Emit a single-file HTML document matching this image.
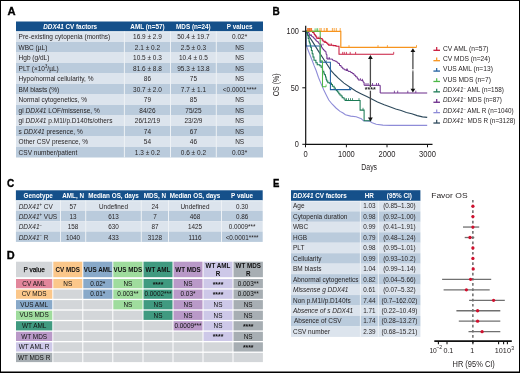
<!DOCTYPE html>
<html><head><meta charset="utf-8"><style>
html,body{margin:0;padding:0;background:#fff;overflow:hidden;width:520px;height:373px;}
svg{display:block;font-family:"Liberation Sans",sans-serif;will-change:transform;}
</style></head><body>
<svg width="520" height="373" viewBox="0 0 520 373">
<rect x="0.00" y="0.00" width="520.00" height="373.00" fill="#fff" />
<text x="7.50" y="15.10" font-size="11.4" text-anchor="start" fill="#000" textLength="8.07" lengthAdjust="spacingAndGlyphs" stroke="#000" stroke-width="0.35"><tspan style="font-weight:bold;">A</tspan></text>
<text x="272.60" y="15.10" font-size="11.4" text-anchor="start" fill="#000" textLength="7.24" lengthAdjust="spacingAndGlyphs" stroke="#000" stroke-width="0.35"><tspan style="font-weight:bold;">B</tspan></text>
<text x="7.10" y="187.20" font-size="11.4" text-anchor="start" fill="#000" textLength="7.24" lengthAdjust="spacingAndGlyphs" stroke="#000" stroke-width="0.35"><tspan style="font-weight:bold;">C</tspan></text>
<text x="6.80" y="258.80" font-size="11.4" text-anchor="start" fill="#000" textLength="7.90" lengthAdjust="spacingAndGlyphs" stroke="#000" stroke-width="0.35"><tspan style="font-weight:bold;">D</tspan></text>
<text x="272.90" y="187.10" font-size="11.4" text-anchor="start" fill="#000" textLength="6.39" lengthAdjust="spacingAndGlyphs" stroke="#000" stroke-width="0.35"><tspan style="font-weight:bold;">E</tspan></text>
<rect x="16.00" y="21.50" width="247.00" height="10.00" fill="#15508a" />
<rect x="16.00" y="31.50" width="247.00" height="10.50" fill="#dce4ed" />
<text x="18.60" y="39.10" font-size="7.2" text-anchor="start" fill="#231f20" textLength="91.62" lengthAdjust="spacingAndGlyphs" ><tspan style="">Pre-existing cytopenia (months)</tspan></text>
<text x="147.45" y="39.10" font-size="7.2" text-anchor="middle" fill="#231f20" textLength="28.78" lengthAdjust="spacingAndGlyphs" ><tspan style="">16.9 ± 2.9</tspan></text>
<text x="193.40" y="39.10" font-size="7.2" text-anchor="middle" fill="#231f20" textLength="32.38" lengthAdjust="spacingAndGlyphs" ><tspan style="">50.4 ± 19.7</tspan></text>
<text x="239.65" y="39.10" font-size="7.2" text-anchor="middle" fill="#231f20" textLength="15.13" lengthAdjust="spacingAndGlyphs" ><tspan style="">0.02*</tspan></text>
<rect x="16.00" y="42.00" width="247.00" height="10.50" fill="#bacbdc" />
<text x="18.60" y="49.60" font-size="7.2" text-anchor="start" fill="#231f20" textLength="28.73" lengthAdjust="spacingAndGlyphs" ><tspan style="">WBC (µL)</tspan></text>
<text x="147.45" y="49.60" font-size="7.2" text-anchor="middle" fill="#231f20" textLength="25.17" lengthAdjust="spacingAndGlyphs" ><tspan style="">2.1 ± 0.2</tspan></text>
<text x="193.40" y="49.60" font-size="7.2" text-anchor="middle" fill="#231f20" textLength="25.17" lengthAdjust="spacingAndGlyphs" ><tspan style="">2.5 ± 0.3</tspan></text>
<text x="239.65" y="49.60" font-size="7.2" text-anchor="middle" fill="#231f20" textLength="9.00" lengthAdjust="spacingAndGlyphs" ><tspan style="">NS</tspan></text>
<rect x="16.00" y="52.50" width="247.00" height="10.50" fill="#dce4ed" />
<text x="18.60" y="60.10" font-size="7.2" text-anchor="start" fill="#231f20" textLength="30.78" lengthAdjust="spacingAndGlyphs" ><tspan style="">Hgb (g/dL)</tspan></text>
<text x="147.45" y="60.10" font-size="7.2" text-anchor="middle" fill="#231f20" textLength="28.78" lengthAdjust="spacingAndGlyphs" ><tspan style="">10.5 ± 0.3</tspan></text>
<text x="193.40" y="60.10" font-size="7.2" text-anchor="middle" fill="#231f20" textLength="28.78" lengthAdjust="spacingAndGlyphs" ><tspan style="">10.4 ± 0.5</tspan></text>
<text x="239.65" y="60.10" font-size="7.2" text-anchor="middle" fill="#231f20" textLength="9.00" lengthAdjust="spacingAndGlyphs" ><tspan style="">NS</tspan></text>
<rect x="16.00" y="63.00" width="247.00" height="10.50" fill="#bacbdc" />
<text x="18.60" y="70.60" font-size="7.2" text-anchor="start" fill="#231f20" textLength="40.09" lengthAdjust="spacingAndGlyphs" ><tspan style="">PLT (×10</tspan><tspan style="font-size:4.68px" dy="-2.52">3</tspan><tspan style="" dy="2.52">/µL)</tspan></text>
<text x="147.45" y="70.60" font-size="7.2" text-anchor="middle" fill="#231f20" textLength="28.78" lengthAdjust="spacingAndGlyphs" ><tspan style="">81.6 ± 8.8</tspan></text>
<text x="193.40" y="70.60" font-size="7.2" text-anchor="middle" fill="#231f20" textLength="32.38" lengthAdjust="spacingAndGlyphs" ><tspan style="">95.3 ± 13.8</tspan></text>
<text x="239.65" y="70.60" font-size="7.2" text-anchor="middle" fill="#231f20" textLength="9.00" lengthAdjust="spacingAndGlyphs" ><tspan style="">NS</tspan></text>
<rect x="16.00" y="73.50" width="247.00" height="10.50" fill="#dce4ed" />
<text x="18.60" y="81.10" font-size="7.2" text-anchor="start" fill="#231f20" textLength="74.84" lengthAdjust="spacingAndGlyphs" ><tspan style="">Hypo/normal cellularity, %</tspan></text>
<text x="147.45" y="81.10" font-size="7.2" text-anchor="middle" fill="#231f20" textLength="7.21" lengthAdjust="spacingAndGlyphs" ><tspan style="">86</tspan></text>
<text x="193.40" y="81.10" font-size="7.2" text-anchor="middle" fill="#231f20" textLength="7.21" lengthAdjust="spacingAndGlyphs" ><tspan style="">75</tspan></text>
<text x="239.65" y="81.10" font-size="7.2" text-anchor="middle" fill="#231f20" textLength="9.00" lengthAdjust="spacingAndGlyphs" ><tspan style="">NS</tspan></text>
<rect x="16.00" y="84.00" width="247.00" height="10.50" fill="#bacbdc" />
<text x="18.60" y="91.60" font-size="7.2" text-anchor="start" fill="#231f20" textLength="40.55" lengthAdjust="spacingAndGlyphs" ><tspan style="">BM blasts (%)</tspan></text>
<text x="147.45" y="91.60" font-size="7.2" text-anchor="middle" fill="#231f20" textLength="28.78" lengthAdjust="spacingAndGlyphs" ><tspan style="">30.7 ± 2.0</tspan></text>
<text x="193.40" y="91.60" font-size="7.2" text-anchor="middle" fill="#231f20" textLength="25.17" lengthAdjust="spacingAndGlyphs" ><tspan style="">7.7 ± 1.1</tspan></text>
<text x="239.65" y="91.60" font-size="7.2" text-anchor="middle" fill="#231f20" textLength="33.69" lengthAdjust="spacingAndGlyphs" ><tspan style="">&lt;0.0001****</tspan></text>
<rect x="16.00" y="94.50" width="247.00" height="10.50" fill="#dce4ed" />
<text x="18.60" y="102.10" font-size="7.2" text-anchor="start" fill="#231f20" textLength="68.44" lengthAdjust="spacingAndGlyphs" ><tspan style="">Normal cytogenetics, %</tspan></text>
<text x="147.45" y="102.10" font-size="7.2" text-anchor="middle" fill="#231f20" textLength="7.21" lengthAdjust="spacingAndGlyphs" ><tspan style="">79</tspan></text>
<text x="193.40" y="102.10" font-size="7.2" text-anchor="middle" fill="#231f20" textLength="7.21" lengthAdjust="spacingAndGlyphs" ><tspan style="">85</tspan></text>
<text x="239.65" y="102.10" font-size="7.2" text-anchor="middle" fill="#231f20" textLength="9.00" lengthAdjust="spacingAndGlyphs" ><tspan style="">NS</tspan></text>
<rect x="16.00" y="105.00" width="247.00" height="10.50" fill="#bacbdc" />
<text x="18.60" y="112.60" font-size="7.2" text-anchor="start" fill="#231f20" textLength="81.11" lengthAdjust="spacingAndGlyphs" ><tspan style="">gl </tspan><tspan style="font-style:italic;">DDX41</tspan><tspan style=""> LOF/missense, %</tspan></text>
<text x="147.45" y="112.60" font-size="7.2" text-anchor="middle" fill="#231f20" textLength="16.21" lengthAdjust="spacingAndGlyphs" ><tspan style="">84/26</tspan></text>
<text x="193.40" y="112.60" font-size="7.2" text-anchor="middle" fill="#231f20" textLength="16.21" lengthAdjust="spacingAndGlyphs" ><tspan style="">75/25</tspan></text>
<text x="239.65" y="112.60" font-size="7.2" text-anchor="middle" fill="#231f20" textLength="9.00" lengthAdjust="spacingAndGlyphs" ><tspan style="">NS</tspan></text>
<rect x="16.00" y="115.50" width="247.00" height="10.50" fill="#dce4ed" />
<text x="18.60" y="123.10" font-size="7.2" text-anchor="start" fill="#231f20" textLength="93.80" lengthAdjust="spacingAndGlyphs" ><tspan style="">gl </tspan><tspan style="font-style:italic;">DDX41</tspan><tspan style=""> p.M1I/p.D140fs/others</tspan></text>
<text x="147.45" y="123.10" font-size="7.2" text-anchor="middle" fill="#231f20" textLength="25.22" lengthAdjust="spacingAndGlyphs" ><tspan style="">26/12/19</tspan></text>
<text x="193.40" y="123.10" font-size="7.2" text-anchor="middle" fill="#231f20" textLength="18.01" lengthAdjust="spacingAndGlyphs" ><tspan style="">23/2/9</tspan></text>
<text x="239.65" y="123.10" font-size="7.2" text-anchor="middle" fill="#231f20" textLength="9.00" lengthAdjust="spacingAndGlyphs" ><tspan style="">NS</tspan></text>
<rect x="16.00" y="126.00" width="247.00" height="10.50" fill="#bacbdc" />
<text x="18.60" y="133.60" font-size="7.2" text-anchor="start" fill="#231f20" textLength="64.10" lengthAdjust="spacingAndGlyphs" ><tspan style="">s </tspan><tspan style="font-style:italic;">DDX41</tspan><tspan style=""> presence, %</tspan></text>
<text x="147.45" y="133.60" font-size="7.2" text-anchor="middle" fill="#231f20" textLength="7.21" lengthAdjust="spacingAndGlyphs" ><tspan style="">74</tspan></text>
<text x="193.40" y="133.60" font-size="7.2" text-anchor="middle" fill="#231f20" textLength="7.21" lengthAdjust="spacingAndGlyphs" ><tspan style="">67</tspan></text>
<text x="239.65" y="133.60" font-size="7.2" text-anchor="middle" fill="#231f20" textLength="9.00" lengthAdjust="spacingAndGlyphs" ><tspan style="">NS</tspan></text>
<rect x="16.00" y="136.50" width="247.00" height="10.50" fill="#dce4ed" />
<text x="18.60" y="144.10" font-size="7.2" text-anchor="start" fill="#231f20" textLength="69.53" lengthAdjust="spacingAndGlyphs" ><tspan style="">Other CSV presence, %</tspan></text>
<text x="147.45" y="144.10" font-size="7.2" text-anchor="middle" fill="#231f20" textLength="7.21" lengthAdjust="spacingAndGlyphs" ><tspan style="">54</tspan></text>
<text x="193.40" y="144.10" font-size="7.2" text-anchor="middle" fill="#231f20" textLength="7.21" lengthAdjust="spacingAndGlyphs" ><tspan style="">46</tspan></text>
<text x="239.65" y="144.10" font-size="7.2" text-anchor="middle" fill="#231f20" textLength="9.00" lengthAdjust="spacingAndGlyphs" ><tspan style="">NS</tspan></text>
<rect x="16.00" y="147.00" width="247.00" height="10.50" fill="#bacbdc" />
<text x="18.60" y="154.60" font-size="7.2" text-anchor="start" fill="#231f20" textLength="58.67" lengthAdjust="spacingAndGlyphs" ><tspan style="">CSV number/patient</tspan></text>
<text x="147.45" y="154.60" font-size="7.2" text-anchor="middle" fill="#231f20" textLength="25.17" lengthAdjust="spacingAndGlyphs" ><tspan style="">1.3 ± 0.2</tspan></text>
<text x="193.40" y="154.60" font-size="7.2" text-anchor="middle" fill="#231f20" textLength="25.17" lengthAdjust="spacingAndGlyphs" ><tspan style="">0.6 ± 0.2</tspan></text>
<text x="239.65" y="154.60" font-size="7.2" text-anchor="middle" fill="#231f20" textLength="15.13" lengthAdjust="spacingAndGlyphs" ><tspan style="">0.03*</tspan></text>
<rect x="123.90" y="31.50" width="1.00" height="126.00" fill="#eef2f6" />
<rect x="170.00" y="31.50" width="1.00" height="126.00" fill="#eef2f6" />
<rect x="215.80" y="31.50" width="1.00" height="126.00" fill="#eef2f6" />
<text x="70.20" y="29.30" font-size="7.2" text-anchor="middle" fill="#fff" textLength="53.87" lengthAdjust="spacingAndGlyphs" ><tspan style="font-weight:bold;font-style:italic;">DDX41</tspan><tspan style="font-weight:bold;"> CV factors</tspan></text>
<text x="147.45" y="29.30" font-size="7.2" text-anchor="middle" fill="#fff" textLength="34.21" lengthAdjust="spacingAndGlyphs" ><tspan style="font-weight:bold;">AML (n=57)</tspan></text>
<text x="193.40" y="29.30" font-size="7.2" text-anchor="middle" fill="#fff" textLength="34.68" lengthAdjust="spacingAndGlyphs" ><tspan style="font-weight:bold;">MDS (n=24)</tspan></text>
<text x="239.65" y="29.30" font-size="7.2" text-anchor="middle" fill="#fff" textLength="25.60" lengthAdjust="spacingAndGlyphs" ><tspan style="font-weight:bold;">P values</tspan></text>
<rect x="16.00" y="31.50" width="247.00" height="0.80" fill="#eef3f8" />
<rect x="15.90" y="190.30" width="246.80" height="10.20" fill="#15508a" />
<text x="38.20" y="197.90" font-size="7.2" text-anchor="middle" fill="#fff" textLength="29.22" lengthAdjust="spacingAndGlyphs" ><tspan style="font-weight:bold;">Genotype</tspan></text>
<text x="73.10" y="197.90" font-size="7.2" text-anchor="middle" fill="#fff" textLength="21.82" lengthAdjust="spacingAndGlyphs" ><tspan style="font-weight:bold;">AML, N</tspan></text>
<text x="113.50" y="197.90" font-size="7.2" text-anchor="middle" fill="#fff" textLength="50.70" lengthAdjust="spacingAndGlyphs" ><tspan style="font-weight:bold;">Median OS, days</tspan></text>
<text x="154.90" y="197.90" font-size="7.2" text-anchor="middle" fill="#fff" textLength="22.18" lengthAdjust="spacingAndGlyphs" ><tspan style="font-weight:bold;">MDS, N</tspan></text>
<text x="195.00" y="197.90" font-size="7.2" text-anchor="middle" fill="#fff" textLength="50.70" lengthAdjust="spacingAndGlyphs" ><tspan style="font-weight:bold;">Median OS, days</tspan></text>
<text x="242.10" y="197.90" font-size="7.2" text-anchor="middle" fill="#fff" textLength="22.07" lengthAdjust="spacingAndGlyphs" ><tspan style="font-weight:bold;">P value</tspan></text>
<rect x="15.90" y="200.50" width="246.80" height="10.35" fill="#dce4ed" />
<text x="18.70" y="208.50" font-size="7.2" text-anchor="start" fill="#231f20" textLength="34.15" lengthAdjust="spacingAndGlyphs" ><tspan style="font-style:italic;">DDX41</tspan><tspan style="font-size:4.68px" dy="-2.52">+</tspan><tspan style="" dy="2.52"> CV</tspan></text>
<text x="73.10" y="208.50" font-size="7.2" text-anchor="middle" fill="#231f20" textLength="7.05" lengthAdjust="spacingAndGlyphs" ><tspan style="">57</tspan></text>
<text x="113.50" y="208.50" font-size="7.2" text-anchor="middle" fill="#231f20" textLength="28.88" lengthAdjust="spacingAndGlyphs" ><tspan style="">Undefined</tspan></text>
<text x="154.90" y="208.50" font-size="7.2" text-anchor="middle" fill="#231f20" textLength="7.05" lengthAdjust="spacingAndGlyphs" ><tspan style="">24</tspan></text>
<text x="195.00" y="208.50" font-size="7.2" text-anchor="middle" fill="#231f20" textLength="28.88" lengthAdjust="spacingAndGlyphs" ><tspan style="">Undefined</tspan></text>
<text x="242.10" y="208.50" font-size="7.2" text-anchor="middle" fill="#231f20" textLength="12.33" lengthAdjust="spacingAndGlyphs" ><tspan style="">0.30</tspan></text>
<rect x="15.90" y="210.85" width="246.80" height="10.35" fill="#bacbdc" />
<text x="18.70" y="218.85" font-size="7.2" text-anchor="start" fill="#231f20" textLength="38.47" lengthAdjust="spacingAndGlyphs" ><tspan style="font-style:italic;">DDX41</tspan><tspan style="font-size:4.68px" dy="-2.52">+</tspan><tspan style="" dy="2.52"> VUS</tspan></text>
<text x="73.10" y="218.85" font-size="7.2" text-anchor="middle" fill="#231f20" textLength="7.05" lengthAdjust="spacingAndGlyphs" ><tspan style="">13</tspan></text>
<text x="113.50" y="218.85" font-size="7.2" text-anchor="middle" fill="#231f20" textLength="10.57" lengthAdjust="spacingAndGlyphs" ><tspan style="">613</tspan></text>
<text x="154.90" y="218.85" font-size="7.2" text-anchor="middle" fill="#231f20" textLength="3.52" lengthAdjust="spacingAndGlyphs" ><tspan style="">7</tspan></text>
<text x="195.00" y="218.85" font-size="7.2" text-anchor="middle" fill="#231f20" textLength="10.57" lengthAdjust="spacingAndGlyphs" ><tspan style="">468</tspan></text>
<text x="242.10" y="218.85" font-size="7.2" text-anchor="middle" fill="#231f20" textLength="12.33" lengthAdjust="spacingAndGlyphs" ><tspan style="">0.86</tspan></text>
<rect x="15.90" y="221.20" width="246.80" height="10.35" fill="#dce4ed" />
<text x="18.70" y="229.20" font-size="7.2" text-anchor="start" fill="#231f20" textLength="23.35" lengthAdjust="spacingAndGlyphs" ><tspan style="font-style:italic;">DDX41</tspan><tspan style="font-size:4.68px" dy="-2.52">−</tspan></text>
<text x="73.10" y="229.20" font-size="7.2" text-anchor="middle" fill="#231f20" textLength="10.57" lengthAdjust="spacingAndGlyphs" ><tspan style="">158</tspan></text>
<text x="113.50" y="229.20" font-size="7.2" text-anchor="middle" fill="#231f20" textLength="10.57" lengthAdjust="spacingAndGlyphs" ><tspan style="">630</tspan></text>
<text x="154.90" y="229.20" font-size="7.2" text-anchor="middle" fill="#231f20" textLength="7.05" lengthAdjust="spacingAndGlyphs" ><tspan style="">87</tspan></text>
<text x="195.00" y="229.20" font-size="7.2" text-anchor="middle" fill="#231f20" textLength="14.09" lengthAdjust="spacingAndGlyphs" ><tspan style="">1425</tspan></text>
<text x="242.10" y="229.20" font-size="7.2" text-anchor="middle" fill="#231f20" textLength="26.78" lengthAdjust="spacingAndGlyphs" ><tspan style="">0.0009***</tspan></text>
<rect x="15.90" y="231.55" width="246.80" height="10.35" fill="#bacbdc" />
<text x="18.70" y="239.55" font-size="7.2" text-anchor="start" fill="#231f20" textLength="29.83" lengthAdjust="spacingAndGlyphs" ><tspan style="font-style:italic;">DDX41</tspan><tspan style="font-size:4.68px" dy="-2.52">−</tspan><tspan style="" dy="2.52"> R</tspan></text>
<text x="73.10" y="239.55" font-size="7.2" text-anchor="middle" fill="#231f20" textLength="14.09" lengthAdjust="spacingAndGlyphs" ><tspan style="">1040</tspan></text>
<text x="113.50" y="239.55" font-size="7.2" text-anchor="middle" fill="#231f20" textLength="10.57" lengthAdjust="spacingAndGlyphs" ><tspan style="">433</tspan></text>
<text x="154.90" y="239.55" font-size="7.2" text-anchor="middle" fill="#231f20" textLength="14.09" lengthAdjust="spacingAndGlyphs" ><tspan style="">3128</tspan></text>
<text x="195.00" y="239.55" font-size="7.2" text-anchor="middle" fill="#231f20" textLength="13.15" lengthAdjust="spacingAndGlyphs" ><tspan style="">1116</tspan></text>
<text x="242.10" y="239.55" font-size="7.2" text-anchor="middle" fill="#231f20" textLength="32.94" lengthAdjust="spacingAndGlyphs" ><tspan style="">&lt;0.0001****</tspan></text>
<rect x="60.00" y="200.50" width="1.00" height="41.40" fill="#eef2f6" />
<rect x="85.20" y="200.50" width="1.00" height="41.40" fill="#eef2f6" />
<rect x="140.80" y="200.50" width="1.00" height="41.40" fill="#eef2f6" />
<rect x="168.00" y="200.50" width="1.00" height="41.40" fill="#eef2f6" />
<rect x="221.00" y="200.50" width="1.00" height="41.40" fill="#eef2f6" />
<rect x="15.90" y="200.50" width="246.80" height="0.80" fill="#eef3f8" />
<rect x="16.00" y="261.70" width="36.30" height="15.50" fill="#d3d6d9" />
<text x="34.15" y="272.30" font-size="6.8" text-anchor="middle" fill="#111" textLength="21.43" lengthAdjust="spacingAndGlyphs" stroke="#111" stroke-width="0.25"><tspan style="">P value</tspan></text>
<rect x="53.30" y="261.70" width="29.00" height="15.50" fill="#fbc78a" />
<text x="67.80" y="272.30" font-size="6.6" text-anchor="middle" fill="#111" textLength="24.39" lengthAdjust="spacingAndGlyphs" ><tspan style="font-weight:bold;">CV MDS</tspan></text>
<rect x="83.30" y="261.70" width="29.00" height="15.50" fill="#88a9c9" />
<text x="97.80" y="272.30" font-size="6.6" text-anchor="middle" fill="#111" textLength="27.98" lengthAdjust="spacingAndGlyphs" ><tspan style="font-weight:bold;">VUS AML</tspan></text>
<rect x="113.30" y="261.70" width="29.20" height="15.50" fill="#9fdc9d" />
<text x="127.90" y="272.30" font-size="6.6" text-anchor="middle" fill="#111" textLength="28.57" lengthAdjust="spacingAndGlyphs" ><tspan style="font-weight:bold;">VUS MDS</tspan></text>
<rect x="143.50" y="261.70" width="29.00" height="15.50" fill="#409a80" />
<text x="158.00" y="272.30" font-size="6.6" text-anchor="middle" fill="#111" textLength="24.84" lengthAdjust="spacingAndGlyphs" ><tspan style="font-weight:bold;">WT AML</tspan></text>
<rect x="173.50" y="261.70" width="29.00" height="15.50" fill="#b999c8" />
<text x="188.00" y="272.30" font-size="6.6" text-anchor="middle" fill="#111" textLength="25.42" lengthAdjust="spacingAndGlyphs" ><tspan style="font-weight:bold;">WT MDS</tspan></text>
<rect x="203.50" y="261.70" width="29.00" height="15.50" fill="#cdc8e8" />
<text x="218.00" y="268.30" font-size="6.6" text-anchor="middle" fill="#111" textLength="24.84" lengthAdjust="spacingAndGlyphs" ><tspan style="font-weight:bold;">WT AML</tspan></text>
<text x="218.00" y="275.90" font-size="6.6" text-anchor="middle" fill="#111" textLength="4.53" lengthAdjust="spacingAndGlyphs" ><tspan style="font-weight:bold;">R</tspan></text>
<rect x="233.50" y="261.70" width="29.40" height="15.50" fill="#a7aeb3" />
<text x="248.20" y="268.30" font-size="6.6" text-anchor="middle" fill="#111" textLength="25.42" lengthAdjust="spacingAndGlyphs" ><tspan style="font-weight:bold;">WT MDS</tspan></text>
<text x="248.20" y="275.90" font-size="6.6" text-anchor="middle" fill="#111" textLength="4.53" lengthAdjust="spacingAndGlyphs" ><tspan style="font-weight:bold;">R</tspan></text>
<rect x="16.00" y="279.00" width="36.30" height="9.25" fill="#e2869b" />
<text x="34.15" y="285.80" font-size="6.7" text-anchor="middle" fill="#111" textLength="23.59" lengthAdjust="spacingAndGlyphs" ><tspan style="">CV AML</tspan></text>
<rect x="53.30" y="279.00" width="29.00" height="9.25" fill="#fbc78a" />
<text x="67.80" y="285.90" font-size="6.7" text-anchor="middle" fill="#111" textLength="8.94" lengthAdjust="spacingAndGlyphs" ><tspan style="">NS</tspan></text>
<rect x="83.30" y="279.00" width="29.00" height="9.25" fill="#88a9c9" />
<text x="97.80" y="285.90" font-size="6.7" text-anchor="middle" fill="#111" textLength="15.02" lengthAdjust="spacingAndGlyphs" ><tspan style="">0.02*</tspan></text>
<rect x="113.30" y="279.00" width="29.20" height="9.25" fill="#9fdc9d" />
<text x="127.90" y="285.90" font-size="6.7" text-anchor="middle" fill="#111" textLength="8.94" lengthAdjust="spacingAndGlyphs" ><tspan style="">NS</tspan></text>
<rect x="143.50" y="279.00" width="29.00" height="9.25" fill="#409a80" />
<text x="158.00" y="286.60" font-size="6.8" text-anchor="middle" fill="#111" textLength="10.59" lengthAdjust="spacingAndGlyphs" ><tspan style="font-weight:bold;">****</tspan></text>
<rect x="173.50" y="279.00" width="29.00" height="9.25" fill="#b999c8" />
<text x="188.00" y="285.90" font-size="6.7" text-anchor="middle" fill="#111" textLength="8.94" lengthAdjust="spacingAndGlyphs" ><tspan style="">NS</tspan></text>
<rect x="203.50" y="279.00" width="29.00" height="9.25" fill="#cdc8e8" />
<text x="218.00" y="286.60" font-size="6.8" text-anchor="middle" fill="#111" textLength="10.59" lengthAdjust="spacingAndGlyphs" ><tspan style="font-weight:bold;">****</tspan></text>
<rect x="233.50" y="279.00" width="29.40" height="9.25" fill="#a7aeb3" />
<text x="248.20" y="285.90" font-size="6.7" text-anchor="middle" fill="#111" textLength="21.10" lengthAdjust="spacingAndGlyphs" ><tspan style="">0.003**</tspan></text>
<rect x="16.00" y="289.55" width="36.30" height="9.25" fill="#fbc78a" />
<text x="34.15" y="296.35" font-size="6.7" text-anchor="middle" fill="#111" textLength="25.02" lengthAdjust="spacingAndGlyphs" ><tspan style="">CV MDS</tspan></text>
<rect x="53.30" y="289.55" width="29.00" height="9.25" fill="#d3d6d9" />
<rect x="83.30" y="289.55" width="29.00" height="9.25" fill="#88a9c9" />
<text x="97.80" y="296.45" font-size="6.7" text-anchor="middle" fill="#111" textLength="15.02" lengthAdjust="spacingAndGlyphs" ><tspan style="">0.01*</tspan></text>
<rect x="113.30" y="289.55" width="29.20" height="9.25" fill="#9fdc9d" />
<text x="127.90" y="296.45" font-size="6.7" text-anchor="middle" fill="#111" textLength="21.10" lengthAdjust="spacingAndGlyphs" ><tspan style="">0.003**</tspan></text>
<rect x="143.50" y="289.55" width="29.00" height="9.25" fill="#409a80" />
<text x="158.00" y="296.45" font-size="6.7" text-anchor="middle" fill="#111" textLength="27.18" lengthAdjust="spacingAndGlyphs" ><tspan style="">0.0002***</tspan></text>
<rect x="173.50" y="289.55" width="29.00" height="9.25" fill="#b999c8" />
<text x="188.00" y="296.45" font-size="6.7" text-anchor="middle" fill="#111" textLength="15.02" lengthAdjust="spacingAndGlyphs" ><tspan style="">0.03*</tspan></text>
<rect x="203.50" y="289.55" width="29.00" height="9.25" fill="#cdc8e8" />
<text x="218.00" y="297.15" font-size="6.8" text-anchor="middle" fill="#111" textLength="10.59" lengthAdjust="spacingAndGlyphs" ><tspan style="font-weight:bold;">****</tspan></text>
<rect x="233.50" y="289.55" width="29.40" height="9.25" fill="#a7aeb3" />
<text x="248.20" y="296.45" font-size="6.7" text-anchor="middle" fill="#111" textLength="21.10" lengthAdjust="spacingAndGlyphs" ><tspan style="">0.003**</tspan></text>
<rect x="16.00" y="300.10" width="36.30" height="9.25" fill="#88a9c9" />
<text x="34.15" y="306.90" font-size="6.7" text-anchor="middle" fill="#111" textLength="27.88" lengthAdjust="spacingAndGlyphs" ><tspan style="">VUS AML</tspan></text>
<rect x="53.30" y="300.10" width="29.00" height="9.25" fill="#d3d6d9" />
<rect x="83.30" y="300.10" width="29.00" height="9.25" fill="#d3d6d9" />
<rect x="113.30" y="300.10" width="29.20" height="9.25" fill="#9fdc9d" />
<text x="127.90" y="307.00" font-size="6.7" text-anchor="middle" fill="#111" textLength="8.94" lengthAdjust="spacingAndGlyphs" ><tspan style="">NS</tspan></text>
<rect x="143.50" y="300.10" width="29.00" height="9.25" fill="#409a80" />
<text x="158.00" y="307.00" font-size="6.7" text-anchor="middle" fill="#111" textLength="8.94" lengthAdjust="spacingAndGlyphs" ><tspan style="">NS</tspan></text>
<rect x="173.50" y="300.10" width="29.00" height="9.25" fill="#b999c8" />
<text x="188.00" y="307.00" font-size="6.7" text-anchor="middle" fill="#111" textLength="8.94" lengthAdjust="spacingAndGlyphs" ><tspan style="">NS</tspan></text>
<rect x="203.50" y="300.10" width="29.00" height="9.25" fill="#cdc8e8" />
<text x="218.00" y="307.00" font-size="6.7" text-anchor="middle" fill="#111" textLength="8.94" lengthAdjust="spacingAndGlyphs" ><tspan style="">NS</tspan></text>
<rect x="233.50" y="300.10" width="29.40" height="9.25" fill="#a7aeb3" />
<text x="248.20" y="307.00" font-size="6.7" text-anchor="middle" fill="#111" textLength="8.94" lengthAdjust="spacingAndGlyphs" ><tspan style="">NS</tspan></text>
<rect x="16.00" y="310.65" width="36.30" height="9.25" fill="#9fdc9d" />
<text x="34.15" y="317.45" font-size="6.7" text-anchor="middle" fill="#111" textLength="29.31" lengthAdjust="spacingAndGlyphs" ><tspan style="">VUS MDS</tspan></text>
<rect x="53.30" y="310.65" width="29.00" height="9.25" fill="#d3d6d9" />
<rect x="83.30" y="310.65" width="29.00" height="9.25" fill="#d3d6d9" />
<rect x="113.30" y="310.65" width="29.20" height="9.25" fill="#d3d6d9" />
<rect x="143.50" y="310.65" width="29.00" height="9.25" fill="#409a80" />
<text x="158.00" y="317.55" font-size="6.7" text-anchor="middle" fill="#111" textLength="8.94" lengthAdjust="spacingAndGlyphs" ><tspan style="">NS</tspan></text>
<rect x="173.50" y="310.65" width="29.00" height="9.25" fill="#b999c8" />
<text x="188.00" y="317.55" font-size="6.7" text-anchor="middle" fill="#111" textLength="8.94" lengthAdjust="spacingAndGlyphs" ><tspan style="">NS</tspan></text>
<rect x="203.50" y="310.65" width="29.00" height="9.25" fill="#cdc8e8" />
<text x="218.00" y="317.55" font-size="6.7" text-anchor="middle" fill="#111" textLength="8.94" lengthAdjust="spacingAndGlyphs" ><tspan style="">NS</tspan></text>
<rect x="233.50" y="310.65" width="29.40" height="9.25" fill="#a7aeb3" />
<text x="248.20" y="317.55" font-size="6.7" text-anchor="middle" fill="#111" textLength="8.94" lengthAdjust="spacingAndGlyphs" ><tspan style="">NS</tspan></text>
<rect x="16.00" y="321.20" width="36.30" height="9.25" fill="#409a80" />
<text x="34.15" y="328.00" font-size="6.7" text-anchor="middle" fill="#111" textLength="24.54" lengthAdjust="spacingAndGlyphs" ><tspan style="">WT AML</tspan></text>
<rect x="53.30" y="321.20" width="29.00" height="9.25" fill="#d3d6d9" />
<rect x="83.30" y="321.20" width="29.00" height="9.25" fill="#d3d6d9" />
<rect x="113.30" y="321.20" width="29.20" height="9.25" fill="#d3d6d9" />
<rect x="143.50" y="321.20" width="29.00" height="9.25" fill="#d3d6d9" />
<rect x="173.50" y="321.20" width="29.00" height="9.25" fill="#b999c8" />
<text x="188.00" y="328.10" font-size="6.7" text-anchor="middle" fill="#111" textLength="27.18" lengthAdjust="spacingAndGlyphs" ><tspan style="">0.0009***</tspan></text>
<rect x="203.50" y="321.20" width="29.00" height="9.25" fill="#cdc8e8" />
<text x="218.00" y="328.10" font-size="6.7" text-anchor="middle" fill="#111" textLength="8.94" lengthAdjust="spacingAndGlyphs" ><tspan style="">NS</tspan></text>
<rect x="233.50" y="321.20" width="29.40" height="9.25" fill="#a7aeb3" />
<text x="248.20" y="328.80" font-size="6.8" text-anchor="middle" fill="#111" textLength="10.59" lengthAdjust="spacingAndGlyphs" ><tspan style="font-weight:bold;">****</tspan></text>
<rect x="16.00" y="331.75" width="36.30" height="9.25" fill="#b999c8" />
<text x="34.15" y="338.55" font-size="6.7" text-anchor="middle" fill="#111" textLength="25.96" lengthAdjust="spacingAndGlyphs" ><tspan style="">WT MDS</tspan></text>
<rect x="53.30" y="331.75" width="29.00" height="9.25" fill="#d3d6d9" />
<rect x="83.30" y="331.75" width="29.00" height="9.25" fill="#d3d6d9" />
<rect x="113.30" y="331.75" width="29.20" height="9.25" fill="#d3d6d9" />
<rect x="143.50" y="331.75" width="29.00" height="9.25" fill="#d3d6d9" />
<rect x="173.50" y="331.75" width="29.00" height="9.25" fill="#d3d6d9" />
<rect x="203.50" y="331.75" width="29.00" height="9.25" fill="#cdc8e8" />
<text x="218.00" y="339.35" font-size="6.8" text-anchor="middle" fill="#111" textLength="10.59" lengthAdjust="spacingAndGlyphs" ><tspan style="font-weight:bold;">****</tspan></text>
<rect x="233.50" y="331.75" width="29.40" height="9.25" fill="#a7aeb3" />
<text x="248.20" y="338.65" font-size="6.7" text-anchor="middle" fill="#111" textLength="8.94" lengthAdjust="spacingAndGlyphs" ><tspan style="">NS</tspan></text>
<rect x="16.00" y="342.30" width="36.30" height="9.25" fill="#cdc8e8" />
<text x="34.15" y="349.10" font-size="6.7" text-anchor="middle" fill="#111" textLength="30.73" lengthAdjust="spacingAndGlyphs" ><tspan style="">WT AML R</tspan></text>
<rect x="53.30" y="342.30" width="29.00" height="9.25" fill="#d3d6d9" />
<rect x="83.30" y="342.30" width="29.00" height="9.25" fill="#d3d6d9" />
<rect x="113.30" y="342.30" width="29.20" height="9.25" fill="#d3d6d9" />
<rect x="143.50" y="342.30" width="29.00" height="9.25" fill="#d3d6d9" />
<rect x="173.50" y="342.30" width="29.00" height="9.25" fill="#d3d6d9" />
<rect x="203.50" y="342.30" width="29.00" height="9.25" fill="#d3d6d9" />
<rect x="233.50" y="342.30" width="29.40" height="9.25" fill="#a7aeb3" />
<text x="248.20" y="349.90" font-size="6.8" text-anchor="middle" fill="#111" textLength="10.59" lengthAdjust="spacingAndGlyphs" ><tspan style="font-weight:bold;">****</tspan></text>
<rect x="16.00" y="352.85" width="36.30" height="9.25" fill="#a7aeb3" />
<text x="34.15" y="359.65" font-size="6.7" text-anchor="middle" fill="#111" textLength="32.40" lengthAdjust="spacingAndGlyphs" ><tspan style="">WT MDS R</tspan></text>
<rect x="53.30" y="352.85" width="29.00" height="9.25" fill="#d3d6d9" />
<rect x="83.30" y="352.85" width="29.00" height="9.25" fill="#d3d6d9" />
<rect x="113.30" y="352.85" width="29.20" height="9.25" fill="#d3d6d9" />
<rect x="143.50" y="352.85" width="29.00" height="9.25" fill="#d3d6d9" />
<rect x="173.50" y="352.85" width="29.00" height="9.25" fill="#d3d6d9" />
<rect x="203.50" y="352.85" width="29.00" height="9.25" fill="#d3d6d9" />
<rect x="233.50" y="352.85" width="29.40" height="9.25" fill="#d3d6d9" />
<rect x="291.00" y="190.20" width="129.40" height="10.70" fill="#15508a" />
<text x="293.00" y="197.70" font-size="7.2" text-anchor="start" fill="#fff" textLength="53.87" lengthAdjust="spacingAndGlyphs" ><tspan style="font-weight:bold;font-style:italic;">DDX41</tspan><tspan style="font-weight:bold;"> CV factors</tspan></text>
<text x="369.35" y="197.70" font-size="7.2" text-anchor="middle" fill="#fff" textLength="9.15" lengthAdjust="spacingAndGlyphs" ><tspan style="font-weight:bold;">HR</tspan></text>
<text x="399.35" y="197.70" font-size="7.2" text-anchor="middle" fill="#fff" textLength="25.00" lengthAdjust="spacingAndGlyphs" ><tspan style="font-weight:bold;">(95% CI)</tspan></text>
<rect x="291.00" y="200.90" width="129.40" height="10.46" fill="#dce4ed" />
<text x="293.00" y="208.40" font-size="7.2" text-anchor="start" fill="#231f20" textLength="11.53" lengthAdjust="spacingAndGlyphs" ><tspan style="">Age</tspan></text>
<text x="369.35" y="208.40" font-size="7.2" text-anchor="middle" fill="#231f20" textLength="12.33" lengthAdjust="spacingAndGlyphs" ><tspan style="">1.03</tspan></text>
<text x="399.35" y="208.40" font-size="7.2" text-anchor="middle" fill="#231f20" textLength="32.40" lengthAdjust="spacingAndGlyphs" ><tspan style="">(0.85–1.30)</tspan></text>
<rect x="291.00" y="211.36" width="129.40" height="10.46" fill="#bacbdc" />
<text x="293.00" y="218.86" font-size="7.2" text-anchor="start" fill="#231f20" textLength="54.39" lengthAdjust="spacingAndGlyphs" ><tspan style="">Cytopenia duration</tspan></text>
<text x="369.35" y="218.86" font-size="7.2" text-anchor="middle" fill="#231f20" textLength="12.33" lengthAdjust="spacingAndGlyphs" ><tspan style="">0.98</tspan></text>
<text x="399.35" y="218.86" font-size="7.2" text-anchor="middle" fill="#231f20" textLength="32.40" lengthAdjust="spacingAndGlyphs" ><tspan style="">(0.92–1.00)</tspan></text>
<rect x="291.00" y="221.82" width="129.40" height="10.46" fill="#dce4ed" />
<text x="293.00" y="229.32" font-size="7.2" text-anchor="start" fill="#231f20" textLength="15.12" lengthAdjust="spacingAndGlyphs" ><tspan style="">WBC</tspan></text>
<text x="369.35" y="229.32" font-size="7.2" text-anchor="middle" fill="#231f20" textLength="12.33" lengthAdjust="spacingAndGlyphs" ><tspan style="">0.99</tspan></text>
<text x="399.35" y="229.32" font-size="7.2" text-anchor="middle" fill="#231f20" textLength="32.40" lengthAdjust="spacingAndGlyphs" ><tspan style="">(0.41–1.91)</tspan></text>
<rect x="291.00" y="232.28" width="129.40" height="10.46" fill="#bacbdc" />
<text x="293.00" y="239.78" font-size="7.2" text-anchor="start" fill="#231f20" textLength="14.04" lengthAdjust="spacingAndGlyphs" ><tspan style="">HGB</tspan></text>
<text x="369.35" y="239.78" font-size="7.2" text-anchor="middle" fill="#231f20" textLength="12.33" lengthAdjust="spacingAndGlyphs" ><tspan style="">0.79</tspan></text>
<text x="399.35" y="239.78" font-size="7.2" text-anchor="middle" fill="#231f20" textLength="32.40" lengthAdjust="spacingAndGlyphs" ><tspan style="">(0.48–1.24)</tspan></text>
<rect x="291.00" y="242.75" width="129.40" height="10.46" fill="#dce4ed" />
<text x="293.00" y="250.25" font-size="7.2" text-anchor="start" fill="#231f20" textLength="11.40" lengthAdjust="spacingAndGlyphs" ><tspan style="">PLT</tspan></text>
<text x="369.35" y="250.25" font-size="7.2" text-anchor="middle" fill="#231f20" textLength="12.33" lengthAdjust="spacingAndGlyphs" ><tspan style="">0.98</tspan></text>
<text x="399.35" y="250.25" font-size="7.2" text-anchor="middle" fill="#231f20" textLength="32.40" lengthAdjust="spacingAndGlyphs" ><tspan style="">(0.95–1.01)</tspan></text>
<rect x="291.00" y="253.21" width="129.40" height="10.46" fill="#bacbdc" />
<text x="293.00" y="260.71" font-size="7.2" text-anchor="start" fill="#231f20" textLength="28.45" lengthAdjust="spacingAndGlyphs" ><tspan style="">Cellularity</tspan></text>
<text x="369.35" y="260.71" font-size="7.2" text-anchor="middle" fill="#231f20" textLength="12.33" lengthAdjust="spacingAndGlyphs" ><tspan style="">0.99</tspan></text>
<text x="399.35" y="260.71" font-size="7.2" text-anchor="middle" fill="#231f20" textLength="32.40" lengthAdjust="spacingAndGlyphs" ><tspan style="">(0.93–10.2)</tspan></text>
<rect x="291.00" y="263.67" width="129.40" height="10.46" fill="#dce4ed" />
<text x="293.00" y="271.17" font-size="7.2" text-anchor="start" fill="#231f20" textLength="28.45" lengthAdjust="spacingAndGlyphs" ><tspan style="">BM blasts</tspan></text>
<text x="369.35" y="271.17" font-size="7.2" text-anchor="middle" fill="#231f20" textLength="12.33" lengthAdjust="spacingAndGlyphs" ><tspan style="">1.04</tspan></text>
<text x="399.35" y="271.17" font-size="7.2" text-anchor="middle" fill="#231f20" textLength="32.40" lengthAdjust="spacingAndGlyphs" ><tspan style="">(0.99–1.14)</tspan></text>
<rect x="291.00" y="274.13" width="129.40" height="10.46" fill="#bacbdc" />
<text x="293.00" y="281.63" font-size="7.2" text-anchor="start" fill="#231f20" textLength="65.55" lengthAdjust="spacingAndGlyphs" ><tspan style="">Abnormal cytogenetics</tspan></text>
<text x="369.35" y="281.63" font-size="7.2" text-anchor="middle" fill="#231f20" textLength="12.33" lengthAdjust="spacingAndGlyphs" ><tspan style="">0.82</tspan></text>
<text x="399.35" y="281.63" font-size="7.2" text-anchor="middle" fill="#231f20" textLength="32.40" lengthAdjust="spacingAndGlyphs" ><tspan style="">(0.04–5.66)</tspan></text>
<rect x="291.00" y="284.59" width="129.40" height="10.46" fill="#dce4ed" />
<text x="293.00" y="292.09" font-size="7.2" text-anchor="start" fill="#231f20" textLength="55.46" lengthAdjust="spacingAndGlyphs" ><tspan style="font-style:italic;">Missense g DDX41</tspan></text>
<text x="369.35" y="292.09" font-size="7.2" text-anchor="middle" fill="#231f20" textLength="12.33" lengthAdjust="spacingAndGlyphs" ><tspan style="">0.61</tspan></text>
<text x="399.35" y="292.09" font-size="7.2" text-anchor="middle" fill="#231f20" textLength="32.40" lengthAdjust="spacingAndGlyphs" ><tspan style="">(0.07–5.32)</tspan></text>
<rect x="291.00" y="295.05" width="129.40" height="10.46" fill="#bacbdc" />
<text x="293.00" y="302.55" font-size="7.2" text-anchor="start" fill="#231f20" textLength="57.63" lengthAdjust="spacingAndGlyphs" ><tspan style="">Non p.M1I/p.D140fs</tspan></text>
<text x="369.35" y="302.55" font-size="7.2" text-anchor="middle" fill="#231f20" textLength="12.33" lengthAdjust="spacingAndGlyphs" ><tspan style="">7.44</tspan></text>
<text x="399.35" y="302.55" font-size="7.2" text-anchor="middle" fill="#231f20" textLength="35.93" lengthAdjust="spacingAndGlyphs" ><tspan style="">(0.7–162.02)</tspan></text>
<rect x="291.00" y="305.52" width="129.40" height="10.46" fill="#dce4ed" />
<text x="293.00" y="313.02" font-size="7.2" text-anchor="start" fill="#231f20" textLength="60.15" lengthAdjust="spacingAndGlyphs" ><tspan style="font-style:italic;">Absence of s DDX41</tspan></text>
<text x="369.35" y="313.02" font-size="7.2" text-anchor="middle" fill="#231f20" textLength="12.33" lengthAdjust="spacingAndGlyphs" ><tspan style="">1.71</tspan></text>
<text x="399.35" y="313.02" font-size="7.2" text-anchor="middle" fill="#231f20" textLength="35.93" lengthAdjust="spacingAndGlyphs" ><tspan style="">(0.22–10.49)</tspan></text>
<rect x="291.00" y="315.98" width="129.40" height="10.46" fill="#bacbdc" />
<text x="294.00" y="323.48" font-size="7.2" text-anchor="start" fill="#231f20" textLength="47.54" lengthAdjust="spacingAndGlyphs" ><tspan style="">Absence of CSV</tspan></text>
<text x="369.35" y="323.48" font-size="7.2" text-anchor="middle" fill="#231f20" textLength="12.33" lengthAdjust="spacingAndGlyphs" ><tspan style="">1.74</tspan></text>
<text x="399.35" y="323.48" font-size="7.2" text-anchor="middle" fill="#231f20" textLength="35.93" lengthAdjust="spacingAndGlyphs" ><tspan style="">(0.28–13.27)</tspan></text>
<rect x="291.00" y="326.44" width="129.40" height="10.46" fill="#dce4ed" />
<text x="293.00" y="333.94" font-size="7.2" text-anchor="start" fill="#231f20" textLength="37.09" lengthAdjust="spacingAndGlyphs" ><tspan style="">CSV number</tspan></text>
<text x="369.35" y="333.94" font-size="7.2" text-anchor="middle" fill="#231f20" textLength="12.33" lengthAdjust="spacingAndGlyphs" ><tspan style="">2.39</tspan></text>
<text x="399.35" y="333.94" font-size="7.2" text-anchor="middle" fill="#231f20" textLength="35.93" lengthAdjust="spacingAndGlyphs" ><tspan style="">(0.68–15.21)</tspan></text>
<rect x="359.90" y="200.90" width="1.00" height="136.00" fill="#eef2f6" />
<rect x="377.80" y="200.90" width="1.00" height="136.00" fill="#eef2f6" />
<rect x="291.00" y="200.90" width="129.40" height="0.80" fill="#eef3f8" />
<text x="431.20" y="197.80" font-size="8.1" text-anchor="start" fill="#231f20" textLength="36.39" lengthAdjust="spacingAndGlyphs" ><tspan style="">Favor OS</tspan></text>
<line x1="472.90" y1="199.90" x2="472.90" y2="344.30" stroke="#333" stroke-width="1.1" stroke-dasharray="2.7,2.5"/>
<circle cx="472.90" cy="206.13" r="1.65" fill="#d0102e"/>
<circle cx="472.90" cy="216.59" r="1.65" fill="#d0102e"/>
<line x1="463.00" y1="227.05" x2="479.20" y2="227.05" stroke="#707070" stroke-width="1.3" />
<circle cx="472.90" cy="227.05" r="1.65" fill="#d0102e"/>
<line x1="464.70" y1="237.52" x2="474.30" y2="237.52" stroke="#707070" stroke-width="1.3" />
<circle cx="470.00" cy="237.52" r="1.65" fill="#d0102e"/>
<circle cx="472.90" cy="247.98" r="1.65" fill="#d0102e"/>
<circle cx="472.90" cy="258.44" r="1.65" fill="#d0102e"/>
<circle cx="473.20" cy="268.90" r="1.65" fill="#d0102e"/>
<line x1="442.10" y1="279.36" x2="491.20" y2="279.36" stroke="#707070" stroke-width="1.3" />
<circle cx="470.60" cy="279.36" r="1.65" fill="#d0102e"/>
<line x1="443.60" y1="289.82" x2="489.70" y2="289.82" stroke="#707070" stroke-width="1.3" />
<circle cx="466.40" cy="289.82" r="1.65" fill="#d0102e"/>
<line x1="469.10" y1="300.28" x2="504.80" y2="300.28" stroke="#707070" stroke-width="1.3" />
<circle cx="493.60" cy="300.28" r="1.65" fill="#d0102e"/>
<line x1="456.40" y1="310.75" x2="500.30" y2="310.75" stroke="#707070" stroke-width="1.3" />
<circle cx="477.60" cy="310.75" r="1.65" fill="#d0102e"/>
<line x1="458.80" y1="321.21" x2="500.30" y2="321.21" stroke="#707070" stroke-width="1.3" />
<circle cx="477.60" cy="321.21" r="1.65" fill="#d0102e"/>
<line x1="468.50" y1="331.67" x2="500.30" y2="331.67" stroke="#707070" stroke-width="1.3" />
<circle cx="482.10" cy="331.67" r="1.65" fill="#d0102e"/>
<line x1="434.30" y1="341.20" x2="511.80" y2="341.20" stroke="#111" stroke-width="1.7" />
<line x1="438.40" y1="341.30" x2="438.40" y2="344.30" stroke="#111" stroke-width="1.1" />
<line x1="447.00" y1="341.30" x2="447.00" y2="344.30" stroke="#111" stroke-width="1.1" />
<line x1="472.90" y1="341.30" x2="472.90" y2="344.30" stroke="#111" stroke-width="1.1" />
<line x1="498.60" y1="341.30" x2="498.60" y2="344.30" stroke="#111" stroke-width="1.1" />
<line x1="503.60" y1="341.30" x2="503.60" y2="344.30" stroke="#111" stroke-width="1.1" />
<line x1="507.40" y1="341.30" x2="507.40" y2="344.30" stroke="#111" stroke-width="1.1" />
<text x="429.40" y="352.90" font-size="7.8" text-anchor="start" fill="#231f20" textLength="7.46" lengthAdjust="spacingAndGlyphs" ><tspan style="">10</tspan></text>
<text x="436.20" y="349.20" font-size="5.4" text-anchor="start" fill="#231f20" textLength="5.85" lengthAdjust="spacingAndGlyphs" ><tspan style="">−2</tspan></text>
<text x="443.40" y="352.90" font-size="7.8" text-anchor="start" fill="#231f20" textLength="9.97" lengthAdjust="spacingAndGlyphs" ><tspan style="">0.1</tspan></text>
<text x="472.30" y="352.90" font-size="7.8" text-anchor="middle" fill="#231f20" textLength="3.90" lengthAdjust="spacingAndGlyphs" ><tspan style="">1</tspan></text>
<text x="494.80" y="352.80" font-size="7.8" text-anchor="start" fill="#231f20" textLength="16.14" lengthAdjust="spacingAndGlyphs" ><tspan style="">1010</tspan></text>
<text x="511.30" y="349.60" font-size="5.8" text-anchor="start" fill="#231f20" textLength="2.90" lengthAdjust="spacingAndGlyphs" ><tspan style="">3</tspan></text>
<text x="452.50" y="366.70" font-size="9.4" text-anchor="start" fill="#231f20" textLength="42.35" lengthAdjust="spacingAndGlyphs" ><tspan style="">HR (95% CI)</tspan></text>
<line x1="305.10" y1="144.30" x2="432.50" y2="144.30" stroke="#111" stroke-width="1.2" />
<line x1="302.30" y1="31.30" x2="305.70" y2="31.30" stroke="#111" stroke-width="1" />
<text x="298.90" y="34.30" font-size="8.2" text-anchor="end" fill="#231f20" textLength="12.31" lengthAdjust="spacingAndGlyphs" ><tspan style="">100</tspan></text>
<line x1="302.30" y1="87.80" x2="305.70" y2="87.80" stroke="#111" stroke-width="1" />
<text x="298.90" y="90.80" font-size="8.2" text-anchor="end" fill="#231f20" textLength="8.21" lengthAdjust="spacingAndGlyphs" ><tspan style="">50</tspan></text>
<line x1="302.30" y1="144.30" x2="305.70" y2="144.30" stroke="#111" stroke-width="1" />
<text x="298.90" y="147.30" font-size="8.2" text-anchor="end" fill="#231f20" textLength="4.10" lengthAdjust="spacingAndGlyphs" ><tspan style="">0</tspan></text>
<line x1="305.50" y1="144.30" x2="305.50" y2="147.30" stroke="#111" stroke-width="1" />
<text x="305.50" y="156.80" font-size="8.2" text-anchor="middle" fill="#231f20" textLength="4.20" lengthAdjust="spacingAndGlyphs" ><tspan style="">0</tspan></text>
<line x1="346.40" y1="144.30" x2="346.40" y2="147.30" stroke="#111" stroke-width="1" />
<text x="346.40" y="156.80" font-size="8.2" text-anchor="middle" fill="#231f20" textLength="16.78" lengthAdjust="spacingAndGlyphs" ><tspan style="">1000</tspan></text>
<line x1="387.00" y1="144.30" x2="387.00" y2="147.30" stroke="#111" stroke-width="1" />
<text x="387.00" y="156.80" font-size="8.2" text-anchor="middle" fill="#231f20" textLength="16.78" lengthAdjust="spacingAndGlyphs" ><tspan style="">2000</tspan></text>
<line x1="427.50" y1="144.30" x2="427.50" y2="147.30" stroke="#111" stroke-width="1" />
<text x="427.50" y="156.80" font-size="8.2" text-anchor="middle" fill="#231f20" textLength="16.78" lengthAdjust="spacingAndGlyphs" ><tspan style="">3000</tspan></text>
<text x="369.20" y="170.30" font-size="9.7" text-anchor="middle" fill="#231f20" textLength="15.69" lengthAdjust="spacingAndGlyphs" ><tspan style="">Days</tspan></text>
<text x="0.00" y="0.00" font-size="9.4" text-anchor="middle" fill="#231f20" textLength="22.80" lengthAdjust="spacingAndGlyphs" transform="translate(279.4,84.9) rotate(-90)"><tspan style="">OS (%)</tspan></text>
<polyline points="305.90,31.30 305.90,43.50 306.70,46.60 309.00,52.50 310.60,56.50 312.00,60.00 314.00,65.40 316.20,70.70 318.40,77.20 321.00,83.60 323.80,90.00 326.50,95.40 328.80,100.00 332.00,104.00 336.00,108.00 340.00,111.40 342.70,112.80 345.40,114.80 350.70,116.10 356.10,116.80 361.40,118.80 363.50,120.80 369.50,121.10 372.20,122.80 376.20,124.20 382.90,125.10 390.00,125.40 427.20,125.40" fill="none" stroke="#8e8cd8" stroke-width="1.1" stroke-linejoin="miter" />
<polyline points="305.70,31.30 309.00,36.30 312.50,41.60 318.10,50.60 325.00,61.20 331.30,70.80 335.10,75.00 338.30,78.20 344.00,83.10 350.70,87.80 356.10,91.20 361.40,93.90 366.80,96.60 372.20,99.20 377.50,101.90 384.20,104.70 390.40,107.10 395.70,109.10 401.10,110.50 406.40,112.50 411.80,113.80 417.20,115.60 422.50,116.90 427.20,117.40" fill="none" stroke="#2e4a5c" stroke-width="1.1" stroke-linejoin="miter" />
<polyline points="305.90,31.30 306.60,31.30 306.60,32.40 307.40,32.40 307.40,35.20 308.20,35.20 308.20,38.50 309.00,38.50 309.00,41.30 309.40,41.30 309.40,42.90 310.20,42.90 310.20,44.90 310.60,44.90 310.60,47.30 311.40,47.30 311.40,50.50 312.20,50.50 312.20,53.70 313.00,53.70 313.00,57.00 314.00,57.00 314.00,60.20 315.90,60.20 315.90,62.80 317.20,62.80 317.20,64.70 319.80,64.70 319.80,65.70 321.10,65.70 321.10,67.30 322.40,67.30 322.40,69.20 322.60,69.20 322.60,71.20 323.80,71.20 323.80,73.00 324.30,73.00 324.30,74.70 325.50,74.70 325.50,77.00 326.10,77.00 326.10,79.30 326.70,79.30 326.70,81.00 327.80,81.00 327.80,82.80 329.50,82.80 329.50,83.30 331.30,83.30 331.30,84.50 332.40,84.50 332.40,86.20 334.10,86.20 334.10,88.00 335.30,88.00 335.30,89.70 336.50,89.70 336.50,90.80 337.60,90.80 337.60,92.00 338.80,92.00 338.80,93.70 339.90,93.70 339.90,94.90 341.10,94.90 341.10,96.00 342.20,96.00 342.20,97.80 344.00,97.80 344.00,98.90 345.10,98.90 345.10,100.50 360.10,100.50 360.10,100.50 360.10,100.50 360.10,110.10 364.10,110.10 364.10,110.10 364.10,110.10 364.10,120.80 370.80,120.80" fill="none" stroke="#1b7a55" stroke-width="1.05" stroke-linejoin="miter" />
<polyline points="305.90,31.30 307.80,31.30 307.80,32.40 309.00,32.40 309.00,34.00 309.80,34.00 309.80,35.20 311.00,35.20 311.00,36.00 312.20,36.00 312.20,36.80 313.40,36.80 313.40,38.10 314.70,38.10 314.70,39.30 315.90,39.30 315.90,40.90 317.10,40.90 317.10,41.70 318.30,41.70 318.30,42.90 319.10,42.90 319.10,44.10 320.30,44.10 320.30,45.30 321.50,45.30 321.50,47.30 322.30,47.30 322.30,48.90 323.50,48.90 323.50,50.10 324.70,50.10 324.70,51.30 325.90,51.30 325.90,52.50 326.10,52.50 326.10,54.40 326.90,54.40 326.90,59.00 330.40,59.00 330.40,59.10 332.50,59.10 332.50,60.20 333.60,60.20 333.60,60.70 335.20,60.70 335.20,61.30 336.80,61.30 336.80,62.30 337.90,62.30 337.90,63.40 339.50,63.40 339.50,65.50 341.10,65.50 341.10,67.20 342.70,67.20 342.70,68.80 344.30,68.80 344.30,69.80 345.90,69.80 345.90,70.40 348.10,70.40 348.10,71.40 350.70,71.40 350.70,72.50 352.30,72.50 352.30,73.60 354.00,73.60 354.00,75.20 355.60,75.20 355.60,76.80 357.20,76.80 357.20,78.40 358.20,78.40 358.20,80.00 361.50,80.00 361.50,80.60 363.10,80.60 363.10,82.20 364.10,82.20 364.10,85.30 380.20,85.30 380.20,85.30 380.20,85.30 380.20,93.00 427.20,93.00" fill="none" stroke="#6a2a8a" stroke-width="1.0" stroke-linejoin="miter" />
<polyline points="305.90,31.30 312.60,31.30 312.60,32.40 313.80,32.40 313.80,33.20 314.30,33.20 314.30,34.40 315.10,34.40 315.10,35.60 315.90,35.60 315.90,36.80 316.70,36.80 316.70,38.10 317.90,38.10 317.90,38.50 321.90,38.50 321.90,38.90 322.30,38.90 322.30,40.10 323.10,40.10 323.10,41.30 324.30,41.30 324.30,42.10 325.90,42.10 325.90,42.50 326.70,42.50 326.70,43.30 327.90,43.30 327.90,44.50 328.70,44.50 328.70,45.30 333.20,45.30 333.20,45.60 336.00,45.60 336.00,46.20 339.00,46.20 339.00,46.60 339.00,46.60 339.00,54.20 393.70,54.20" fill="none" stroke="#c8193c" stroke-width="1.05" stroke-linejoin="miter" />
<polyline points="305.90,31.30 340.80,31.30 340.80,47.40 416.50,47.40" fill="none" stroke="#f7941d" stroke-width="1.2" stroke-linejoin="miter" />
<polyline points="305.90,31.30 305.90,46.00 320.10,46.00 320.10,62.20 330.40,62.20 330.40,89.60 351.00,89.60" fill="none" stroke="#2060a0" stroke-width="1.05" stroke-linejoin="miter" />
<polyline points="305.90,31.30 320.20,31.30 320.20,61.00 322.50,61.00 322.50,86.80 326.10,86.80" fill="none" stroke="#4cb848" stroke-width="1.05" stroke-linejoin="miter" />
<line x1="305.70" y1="25.80" x2="305.70" y2="144.80" stroke="#111" stroke-width="1.2" />
<line x1="307.60" y1="31.30" x2="307.60" y2="28.00" stroke="#f7941d" stroke-width="0.8" />
<line x1="308.40" y1="31.30" x2="308.40" y2="28.00" stroke="#f7941d" stroke-width="0.8" />
<line x1="309.20" y1="31.30" x2="309.20" y2="28.00" stroke="#f7941d" stroke-width="0.8" />
<line x1="310.00" y1="31.30" x2="310.00" y2="28.00" stroke="#f7941d" stroke-width="0.8" />
<line x1="310.80" y1="31.30" x2="310.80" y2="28.00" stroke="#f7941d" stroke-width="0.8" />
<line x1="311.60" y1="31.30" x2="311.60" y2="28.00" stroke="#f7941d" stroke-width="0.8" />
<line x1="319.90" y1="31.30" x2="319.90" y2="28.00" stroke="#f7941d" stroke-width="0.8" />
<line x1="321.20" y1="31.30" x2="321.20" y2="28.00" stroke="#f7941d" stroke-width="0.8" />
<line x1="324.20" y1="31.30" x2="324.20" y2="28.00" stroke="#f7941d" stroke-width="0.8" />
<line x1="326.40" y1="31.30" x2="326.40" y2="28.00" stroke="#f7941d" stroke-width="0.8" />
<line x1="327.30" y1="31.30" x2="327.30" y2="28.00" stroke="#f7941d" stroke-width="0.8" />
<line x1="332.40" y1="31.30" x2="332.40" y2="28.00" stroke="#f7941d" stroke-width="0.8" />
<line x1="334.20" y1="31.30" x2="334.20" y2="28.00" stroke="#f7941d" stroke-width="0.8" />
<line x1="336.30" y1="31.30" x2="336.30" y2="28.00" stroke="#f7941d" stroke-width="0.8" />
<line x1="340.20" y1="31.30" x2="340.20" y2="28.00" stroke="#f7941d" stroke-width="0.8" />
<line x1="308.00" y1="31.30" x2="308.00" y2="28.00" stroke="#e8552a" stroke-width="0.8" />
<line x1="309.60" y1="31.30" x2="309.60" y2="28.00" stroke="#e8552a" stroke-width="0.8" />
<line x1="311.20" y1="31.30" x2="311.20" y2="28.00" stroke="#e8552a" stroke-width="0.8" />
<line x1="349.00" y1="47.40" x2="349.00" y2="45.10" stroke="#f7941d" stroke-width="0.8" />
<line x1="378.00" y1="47.40" x2="378.00" y2="45.10" stroke="#f7941d" stroke-width="0.8" />
<line x1="387.40" y1="47.40" x2="387.40" y2="45.10" stroke="#f7941d" stroke-width="0.8" />
<line x1="416.50" y1="47.40" x2="416.50" y2="45.10" stroke="#f7941d" stroke-width="0.8" />
<line x1="315.10" y1="31.30" x2="315.10" y2="28.30" stroke="#4cb848" stroke-width="0.8" />
<line x1="316.90" y1="31.30" x2="316.90" y2="28.30" stroke="#4cb848" stroke-width="0.8" />
<line x1="317.70" y1="31.30" x2="317.70" y2="28.30" stroke="#4cb848" stroke-width="0.8" />
<line x1="342.70" y1="54.20" x2="342.70" y2="51.90" stroke="#c8193c" stroke-width="0.8" />
<line x1="344.30" y1="54.20" x2="344.30" y2="51.90" stroke="#c8193c" stroke-width="0.8" />
<line x1="346.40" y1="54.20" x2="346.40" y2="51.90" stroke="#c8193c" stroke-width="0.8" />
<line x1="350.20" y1="54.20" x2="350.20" y2="51.90" stroke="#c8193c" stroke-width="0.8" />
<line x1="355.60" y1="54.20" x2="355.60" y2="51.90" stroke="#c8193c" stroke-width="0.8" />
<line x1="393.70" y1="54.20" x2="393.70" y2="51.90" stroke="#c8193c" stroke-width="0.8" />
<line x1="318.80" y1="38.50" x2="318.80" y2="36.70" stroke="#c8193c" stroke-width="0.8" />
<line x1="320.20" y1="38.50" x2="320.20" y2="36.70" stroke="#c8193c" stroke-width="0.8" />
<line x1="325.30" y1="42.50" x2="325.30" y2="40.70" stroke="#c8193c" stroke-width="0.8" />
<line x1="330.00" y1="45.30" x2="330.00" y2="43.50" stroke="#c8193c" stroke-width="0.8" />
<line x1="331.50" y1="45.30" x2="331.50" y2="43.50" stroke="#c8193c" stroke-width="0.8" />
<line x1="309.60" y1="36.00" x2="309.60" y2="34.40" stroke="#6a2a8a" stroke-width="0.8" />
<line x1="311.50" y1="36.00" x2="311.50" y2="34.40" stroke="#6a2a8a" stroke-width="0.8" />
<line x1="321.00" y1="45.30" x2="321.00" y2="43.70" stroke="#6a2a8a" stroke-width="0.8" />
<line x1="323.00" y1="45.30" x2="323.00" y2="43.70" stroke="#6a2a8a" stroke-width="0.8" />
<line x1="328.00" y1="59.05" x2="328.00" y2="57.25" stroke="#6a2a8a" stroke-width="0.8" />
<line x1="329.50" y1="59.05" x2="329.50" y2="57.25" stroke="#6a2a8a" stroke-width="0.8" />
<line x1="346.50" y1="70.40" x2="346.50" y2="68.60" stroke="#6a2a8a" stroke-width="0.8" />
<line x1="347.50" y1="70.40" x2="347.50" y2="68.60" stroke="#6a2a8a" stroke-width="0.8" />
<line x1="360.40" y1="80.00" x2="360.40" y2="78.20" stroke="#6a2a8a" stroke-width="0.8" />
<line x1="362.50" y1="80.60" x2="362.50" y2="78.80" stroke="#6a2a8a" stroke-width="0.8" />
<line x1="394.40" y1="93.00" x2="394.40" y2="90.70" stroke="#6a2a8a" stroke-width="0.8" />
<line x1="397.70" y1="93.00" x2="397.70" y2="90.70" stroke="#6a2a8a" stroke-width="0.8" />
<line x1="407.80" y1="93.00" x2="407.80" y2="90.70" stroke="#6a2a8a" stroke-width="0.8" />
<line x1="415.80" y1="93.00" x2="415.80" y2="90.70" stroke="#6a2a8a" stroke-width="0.8" />
<line x1="366.00" y1="85.30" x2="366.00" y2="83.00" stroke="#6a2a8a" stroke-width="0.8" />
<line x1="368.00" y1="85.30" x2="368.00" y2="83.00" stroke="#6a2a8a" stroke-width="0.8" />
<line x1="372.50" y1="85.30" x2="372.50" y2="83.00" stroke="#6a2a8a" stroke-width="0.8" />
<line x1="376.50" y1="85.30" x2="376.50" y2="83.00" stroke="#6a2a8a" stroke-width="0.8" />
<line x1="378.50" y1="85.30" x2="378.50" y2="83.00" stroke="#6a2a8a" stroke-width="0.8" />
<line x1="346.50" y1="100.50" x2="346.50" y2="98.20" stroke="#1b7a55" stroke-width="0.8" />
<line x1="348.50" y1="100.50" x2="348.50" y2="98.20" stroke="#1b7a55" stroke-width="0.8" />
<line x1="350.50" y1="100.50" x2="350.50" y2="98.20" stroke="#1b7a55" stroke-width="0.8" />
<line x1="352.50" y1="100.50" x2="352.50" y2="98.20" stroke="#1b7a55" stroke-width="0.8" />
<line x1="359.00" y1="100.50" x2="359.00" y2="98.20" stroke="#1b7a55" stroke-width="0.8" />
<line x1="363.00" y1="110.10" x2="363.00" y2="107.80" stroke="#1b7a55" stroke-width="0.8" />
<line x1="370.80" y1="120.80" x2="370.80" y2="118.50" stroke="#1b7a55" stroke-width="0.8" />
<line x1="331.50" y1="84.50" x2="331.50" y2="82.70" stroke="#1b7a55" stroke-width="0.8" />
<line x1="321.10" y1="62.20" x2="321.10" y2="60.40" stroke="#2060a0" stroke-width="0.8" />
<line x1="326.20" y1="62.20" x2="326.20" y2="60.40" stroke="#2060a0" stroke-width="0.8" />
<line x1="349.50" y1="89.60" x2="349.50" y2="87.30" stroke="#2060a0" stroke-width="0.8" />
<line x1="351.00" y1="89.60" x2="351.00" y2="87.30" stroke="#2060a0" stroke-width="0.8" />
<line x1="326.10" y1="86.80" x2="326.10" y2="84.50" stroke="#4cb848" stroke-width="0.8" />
<line x1="370.40" y1="57.60" x2="370.40" y2="118.90" stroke="#4a4a4a" stroke-width="1.3" />
<polygon points="370.4,55.1 368.0,58.9 372.79999999999995,58.9" fill="#111"/>
<polygon points="370.4,121.4 368.0,117.60000000000001 372.79999999999995,117.60000000000001" fill="#111"/>
<line x1="412.90" y1="50.80" x2="412.90" y2="90.10" stroke="#4a4a4a" stroke-width="1.3" />
<polygon points="412.9,48.3 410.5,52.099999999999994 415.29999999999995,52.099999999999994" fill="#111"/>
<polygon points="412.9,92.6 410.5,88.8 415.29999999999995,88.8" fill="#111"/>
<rect x="411.50" y="69.00" width="2.80" height="2.20" fill="#fff" />
<line x1="412.90" y1="69.80" x2="412.90" y2="70.40" stroke="#4a4a4a" stroke-width="1.2" />
<rect x="369.00" y="87.00" width="3.00" height="3.70" fill="#fff" />
<text x="370.30" y="91.60" font-size="7.0" text-anchor="middle" fill="#222" textLength="10.90" lengthAdjust="spacingAndGlyphs" ><tspan style="font-weight:bold;">****</tspan></text>
<line x1="433.40" y1="50.30" x2="440.00" y2="50.30" stroke="#c8193c" stroke-width="1.3" />
<line x1="436.70" y1="50.30" x2="436.70" y2="47.10" stroke="#c8193c" stroke-width="1.2" />
<text x="443.00" y="50.50" font-size="6.4" text-anchor="start" fill="#231f20" textLength="45.44" lengthAdjust="spacingAndGlyphs" ><tspan style="">CV AML (n=57)</tspan></text>
<line x1="433.40" y1="60.69" x2="440.00" y2="60.69" stroke="#f7941d" stroke-width="1.3" />
<line x1="436.70" y1="60.69" x2="436.70" y2="57.49" stroke="#f7941d" stroke-width="1.2" />
<text x="443.00" y="60.89" font-size="6.4" text-anchor="start" fill="#231f20" textLength="47.16" lengthAdjust="spacingAndGlyphs" ><tspan style="">CV MDS (n=24)</tspan></text>
<line x1="433.40" y1="71.08" x2="440.00" y2="71.08" stroke="#2060a0" stroke-width="1.3" />
<line x1="436.70" y1="71.08" x2="436.70" y2="67.88" stroke="#2060a0" stroke-width="1.2" />
<text x="443.00" y="71.28" font-size="6.4" text-anchor="start" fill="#231f20" textLength="49.88" lengthAdjust="spacingAndGlyphs" ><tspan style="">VUS AML (n=13)</tspan></text>
<line x1="433.40" y1="81.47" x2="440.00" y2="81.47" stroke="#4cb848" stroke-width="1.3" />
<line x1="436.70" y1="81.47" x2="436.70" y2="78.27" stroke="#4cb848" stroke-width="1.2" />
<text x="443.00" y="81.67" font-size="6.4" text-anchor="start" fill="#231f20" textLength="47.90" lengthAdjust="spacingAndGlyphs" ><tspan style="">VUS MDS (n=7)</tspan></text>
<line x1="433.40" y1="91.86" x2="440.00" y2="91.86" stroke="#1b7a55" stroke-width="1.3" />
<line x1="436.70" y1="91.86" x2="436.70" y2="88.66" stroke="#1b7a55" stroke-width="1.2" />
<text x="443.00" y="92.06" font-size="6.4" text-anchor="start" fill="#231f20" textLength="60.81" lengthAdjust="spacingAndGlyphs" ><tspan style="font-style:italic;">DDX41</tspan><tspan style="font-size:4.16px" dy="-2.24">−</tspan><tspan style="" dy="2.24"> AML (n=158)</tspan></text>
<line x1="433.40" y1="102.25" x2="440.00" y2="102.25" stroke="#6a2a8a" stroke-width="1.3" />
<line x1="436.70" y1="102.25" x2="436.70" y2="99.05" stroke="#6a2a8a" stroke-width="1.2" />
<text x="443.00" y="102.45" font-size="6.4" text-anchor="start" fill="#231f20" textLength="58.92" lengthAdjust="spacingAndGlyphs" ><tspan style="font-style:italic;">DDX41</tspan><tspan style="font-size:4.16px" dy="-2.24">−</tspan><tspan style="" dy="2.24"> MDS (n=87)</tspan></text>
<line x1="433.40" y1="112.64" x2="440.00" y2="112.64" stroke="#8e8cd8" stroke-width="1.3" />
<line x1="436.70" y1="112.64" x2="436.70" y2="109.44" stroke="#8e8cd8" stroke-width="1.2" />
<text x="443.00" y="112.84" font-size="6.4" text-anchor="start" fill="#231f20" textLength="70.67" lengthAdjust="spacingAndGlyphs" ><tspan style="font-style:italic;">DDX41</tspan><tspan style="font-size:4.16px" dy="-2.24">−</tspan><tspan style="" dy="2.24"> AML R (n=1040)</tspan></text>
<line x1="433.40" y1="123.03" x2="440.00" y2="123.03" stroke="#2e4a5c" stroke-width="1.3" />
<line x1="436.70" y1="123.03" x2="436.70" y2="119.83" stroke="#2e4a5c" stroke-width="1.2" />
<text x="443.00" y="123.23" font-size="6.4" text-anchor="start" fill="#231f20" textLength="72.30" lengthAdjust="spacingAndGlyphs" ><tspan style="font-style:italic;">DDX41</tspan><tspan style="font-size:4.16px" dy="-2.24">−</tspan><tspan style="" dy="2.24"> MDS R (n=3128)</tspan></text>
<rect x="0.00" y="0.00" width="520.00" height="1.00" fill="#000" />
<rect x="0.00" y="0.00" width="1.00" height="373.00" fill="#000" />
<rect x="519.00" y="0.00" width="1.00" height="373.00" fill="#000" />
<rect x="0.00" y="371.50" width="520.00" height="1.50" fill="#000" />
</svg>
</body></html>
